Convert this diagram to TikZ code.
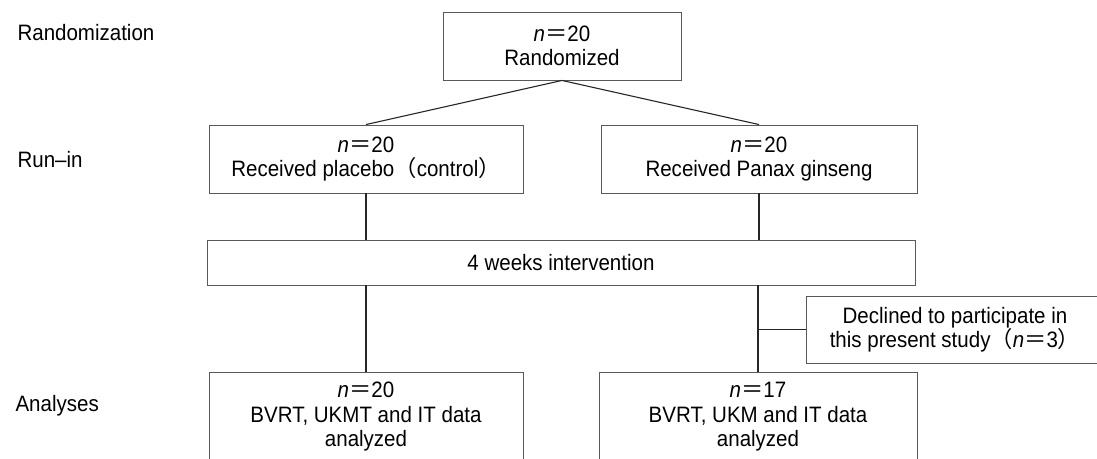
\documentclass[tikz,border=0pt]{standalone}
\usepackage{fontspec}
\setmainfont{Liberation Sans}[FakeStretch=0.92]
\newfontfamily\cjk{Noto Sans CJK JP}
\newcommand{\feq}{{\cjk ＝}}
\newcommand{\flp}{{\cjk （}}
\newcommand{\frp}{{\cjk ）}}
\newcommand{\nn}{\textit{n}}

\begin{document}
\begin{tikzpicture}[x=1pt,y=-1pt,
        font=\fontsize{22.3}{24.5}\selectfont,
        box/.style={draw=black!65, line width=0.9pt, align=center, inner sep=0pt},
        link/.style={black!85, line width=1.1pt}]
        \useasboundingbox (0,0) rectangle (1097,458);
        \clip (0,0) rectangle (1097,458);

        % Draw the phase labels
        \node[anchor=west] (lrand) at (14,33) {Randomization};
        \node[anchor=west] (lrun) at (14,160) {Run\textendash in};
        \node[anchor=west] (lana) at (12,406) {Analyses};

        % Draw the boxes
        \node[box, minimum width=238, minimum height=68] (rand) at (562,46) {\nn\feq 20\\Randomized};
        \node[box, minimum width=314, minimum height=68] (placebo) at (366,159) {\nn\feq 20\\Received placebo\flp control\frp};
        \node[box, minimum width=316, minimum height=68] (panax) at (759,159) {\nn\feq 20\\Received Panax ginseng};
        \node[box, minimum width=708, minimum height=45] (interv) at (561,262.5) {4 weeks intervention};
        \node[box, anchor=west, minimum width=330, minimum height=67] (declined) at (806,329.5) {};
        \node[align=center] (decltext) at (955,329.5) {Declined to participate in\\this present study\flp\nn\feq 3\frp};
        \node[box, minimum width=314, minimum height=90] (anaplacebo) at (366,417) {\nn\feq 20\\BVRT, UKMT and IT data\\analyzed};
        \node[box, minimum width=318, minimum height=90] (anapanax) at (758,417) {\nn\feq 17\\BVRT, UKM and IT data\\analyzed};

        % Draw the connectors
        \draw[link] (rand.south) -- (placebo.north);
        \draw[link] (rand.south) -- (panax.north);
        \draw[link] (placebo.south) -- (placebo.south |- interv.north);
        \draw[link] (panax.south) -- (panax.south |- interv.north);
        \draw[link] (anaplacebo.north |- interv.south) -- (anaplacebo.north);
        \draw[link] (anapanax.north |- interv.south) -- (anapanax.north);
        \coordinate (split) at (anapanax.north |- declined.west);
        \draw[link] (split) -- (declined.west);
    \end{tikzpicture}
\end{document}
